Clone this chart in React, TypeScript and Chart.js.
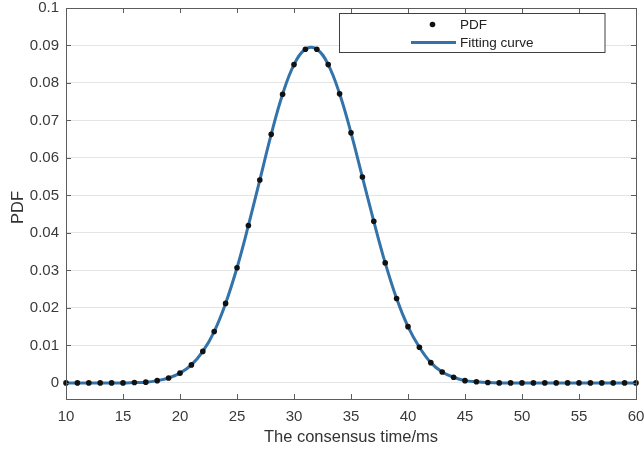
import React, { useEffect, useRef } from "react";
import { Chart, registerables } from "chart.js";

Chart.register(...registerables);

const timeMs = [
  10, 11, 12, 13, 14, 15, 16, 17, 18, 19, 20, 21, 22, 23, 24, 25, 26, 27, 28, 29,
  30, 31, 32, 33, 34, 35, 36, 37, 38, 39, 40, 41, 42, 43, 44, 45, 46, 47, 48, 49,
  50, 51, 52, 53, 54, 55, 56, 57, 58, 59, 60,
];

const pdfValues = [
  0, 0, 0, 0, 0, 0, 0.0001, 0.0002, 0.0006, 0.0013, 0.0026, 0.0048, 0.0084, 0.0137,
  0.0212, 0.0307, 0.042, 0.0541, 0.0663, 0.077, 0.0849, 0.089, 0.089, 0.0849,
  0.0771, 0.0667, 0.0549, 0.0431, 0.032, 0.0225, 0.015, 0.0095, 0.0054, 0.0029,
  0.0015, 0.0006, 0.0003, 0.0001, 0, 0, 0, 0, 0, 0, 0, 0, 0, 0, 0, 0, 0,
];

const xTicks = [10, 15, 20, 25, 30, 35, 40, 45, 50, 55, 60];
const yTicks = [0, 0.01, 0.02, 0.03, 0.04, 0.05, 0.06, 0.07, 0.08, 0.09, 0.1];
const yTickLabels = ["0", "0.01", "0.02", "0.03", "0.04", "0.05", "0.06", "0.07", "0.08", "0.09", "0.1"];

const xTitle = "The consensus time/ms";
const yTitle = "PDF";
const legendLabels = ["PDF", "Fitting curve"];

const FONT = "'Liberation Sans', Arial, Helvetica, sans-serif";
const CURVE_COLOR = "#3473aa";
const DOT_COLOR = "#111111";
const AXIS_COLOR = "#5c5c5c";
const TEXT_COLOR = "#3a3a3a";

const matlabAxes = {
  id: "matlabAxes",
  afterDraw(chart: any) {
    const { ctx, chartArea } = chart;
    const { left, right, top, bottom } = chartArea;
    const xs = chart.scales.x;
    const ys = chart.scales.y;
    ctx.save();
    // box
    ctx.strokeStyle = AXIS_COLOR;
    ctx.lineWidth = 1;
    ctx.strokeRect(Math.round(left) + 0.5, Math.round(top) + 0.5, Math.round(right - left), Math.round(bottom - top));
    // inward ticks
    const tl = 5;
    ctx.beginPath();
    xTicks.forEach((v) => {
      const px = Math.round(xs.getPixelForValue(v)) + 0.5;
      ctx.moveTo(px, bottom);
      ctx.lineTo(px, bottom - tl);
      ctx.moveTo(px, top);
      ctx.lineTo(px, top + tl);
    });
    yTicks.forEach((v) => {
      const py = Math.round(ys.getPixelForValue(v)) + 0.5;
      ctx.moveTo(left, py);
      ctx.lineTo(left + tl, py);
      ctx.moveTo(right, py);
      ctx.lineTo(right - tl, py);
    });
    ctx.stroke();

    // axis titles
    ctx.fillStyle = "#333333";
    ctx.font = `16.5px ${FONT}`;
    ctx.textAlign = "center";
    ctx.textBaseline = "middle";
    ctx.fillText(xTitle, (left + right) / 2, 437);
    ctx.save();
    ctx.translate(18, (top + bottom) / 2 + 4);
    ctx.rotate(-Math.PI / 2);
    ctx.fillText(yTitle, 0, 0);
    ctx.restore();

    // legend
    const lx = 339.5;
    const ly = 13.5;
    const lw = 265.5;
    const lh = 39;
    ctx.fillStyle = "#ffffff";
    ctx.fillRect(lx, ly, lw, lh);
    ctx.strokeStyle = "#404040";
    ctx.lineWidth = 1;
    ctx.strokeRect(lx, ly, lw, lh);

    ctx.fillStyle = DOT_COLOR;
    ctx.beginPath();
    ctx.arc(432.5, 24.5, 2.8, 0, Math.PI * 2);
    ctx.fill();

    ctx.strokeStyle = CURVE_COLOR;
    ctx.lineWidth = 3;
    ctx.beginPath();
    ctx.moveTo(411, 42.5);
    ctx.lineTo(456, 42.5);
    ctx.stroke();

    ctx.fillStyle = "#222222";
    ctx.font = `13.5px ${FONT}`;
    ctx.textAlign = "left";
    ctx.textBaseline = "middle";
    ctx.fillText(legendLabels[0], 460, 25);
    ctx.fillText(legendLabels[1], 460, 43.5);
    ctx.restore();
  },
};

export default function App() {
  const canvasRef = useRef<HTMLCanvasElement | null>(null);

  useEffect(() => {
    const canvas = canvasRef.current;
    if (!canvas) return;
    const points = timeMs.map((t, i) => ({ x: t, y: pdfValues[i] }));
    const chart = new Chart(canvas, {
      type: "line",
      data: {
        datasets: [
          {
            label: legendLabels[0],
            data: points,
            showLine: false,
            pointRadius: 2.8,
            pointBackgroundColor: DOT_COLOR,
            pointBorderWidth: 0,
            pointBorderColor: DOT_COLOR,
            borderColor: DOT_COLOR,
            clip: 6,
            order: 0,
          },
          {
            label: legendLabels[1],
            data: points,
            showLine: true,
            borderColor: CURVE_COLOR,
            borderWidth: 3,
            pointRadius: 0,
            tension: 0.4,
            fill: false,
            order: 1,
          },
        ],
      },
      options: {
        animation: false,
        responsive: false,
        devicePixelRatio: 1,
        layout: { padding: { top: 8, right: 8, left: 0, bottom: 0 } },
        plugins: {
          legend: { display: false },
          tooltip: { enabled: false },
        },
        scales: {
          x: {
            type: "linear",
            min: 10,
            max: 60,
            grid: { display: false, drawTicks: false },
            border: { display: false },
            afterBuildTicks: (scale: any) => {
              scale.ticks = xTicks.map((v) => ({ value: v }));
            },
            afterFit: (scale: any) => {
              scale.height = 53;
              scale.paddingLeft = 0;
              scale.paddingRight = 0;
            },
            ticks: {
              padding: 9,
              color: TEXT_COLOR,
              font: { family: FONT, size: 15 },
              maxRotation: 0,
              autoSkip: false,
              callback: (v: any) => String(v),
            },
          },
          y: {
            type: "linear",
            min: -0.0043,
            max: 0.1,
            grid: { display: true, color: "#e4e4e4", lineWidth: 1, drawTicks: false },
            border: { display: false },
            afterBuildTicks: (scale: any) => {
              scale.ticks = yTicks.map((v) => ({ value: v }));
            },
            afterFit: (scale: any) => {
              scale.width = 66;
              scale.paddingTop = 0;
              scale.paddingBottom = 0;
            },
            ticks: {
              padding: 7,
              color: TEXT_COLOR,
              font: { family: FONT, size: 15 },
              autoSkip: false,
              callback: (_v: any, i: number) => yTickLabels[i],
            },
          },
        },
      },
      plugins: [
        {
          id: "whiteBg",
          beforeDraw(c: any) {
            const ctx = c.ctx;
            ctx.save();
            ctx.fillStyle = "#ffffff";
            ctx.fillRect(0, 0, c.width, c.height);
            ctx.restore();
          },
        },
        matlabAxes,
      ],
    } as any);
    return () => chart.destroy();
  }, []);

  return (
    <div style={{ position: "fixed", left: 0, top: 0, width: 644, height: 452, background: "#fff" }}>
      <canvas ref={canvasRef} width={644} height={452} style={{ width: 644, height: 452, display: "block" }} />
    </div>
  );
}
